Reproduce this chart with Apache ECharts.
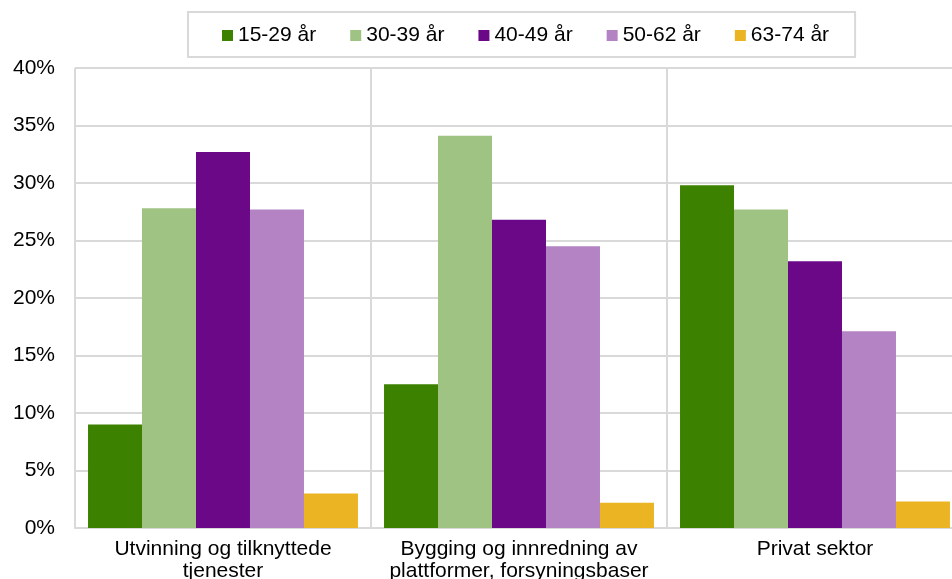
<!DOCTYPE html>
<html>
<head>
<meta charset="utf-8">
<script src="https://cdn.jsdelivr.net/npm/echarts@6/dist/echarts.min.js"></script>
<style>
html,body{margin:0;padding:0;background:#fff;}
#chart{width:952px;height:579px;}
</style>
</head>
<body>
<div id="chart"></div>
<script>
const categories = ["Utvinning og tilknyttede\ntjenester", "Bygging og innredning av\nplattformer, forsyningsbaser", "Privat sektor"];
const seriesNames = ["15-29 år", "30-39 år", "40-49 år", "50-62 år", "63-74 år"];
const s1529 = [9.0, 12.5, 29.8];
const s3039 = [27.8, 34.1, 27.7];
const s4049 = [32.7, 26.8, 23.2];
const s5062 = [27.7, 24.5, 17.1];
const s6374 = [3.0, 2.2, 2.3];
const yTicks = [0, 5, 10, 15, 20, 25, 30, 35, 40];

const values = [s1529, s3039, s4049, s5062, s6374];
const colors = ["#3c8200", "#9fc383", "#6a0888", "#b383c4", "#ebb422"];
const font = "'Liberation Sans', Arial, sans-serif";

const chart = echarts.init(document.getElementById('chart'));
chart.setOption({
  animation: false,
  color: colors,
  legend: {
    left: 188, top: 12,
    padding: [13, 26, 11, 34],
    borderColor: '#d9d9d9', borderWidth: 2,
    itemWidth: 11, itemHeight: 11, itemGap: 34,
    icon: 'rect',
    textStyle: { fontSize: 21, fontFamily: font, color: '#000' },
    data: seriesNames
  },
  grid: { left: 75, top: 68, width: 888, height: 460, containLabel: false, outerBoundsMode: 'none' },
  xAxis: {
    type: 'category',
    data: categories,
    axisLine: { show: true, lineStyle: { color: '#d9d9d9', width: 2 } },
    axisTick: { show: false },
    splitLine: { show: true, interval: 0, lineStyle: { color: '#d9d9d9', width: 2 } },
    axisLabel: { interval: 0, margin: 10, fontSize: 21, lineHeight: 22, fontFamily: font, color: '#000' }
  },
  yAxis: {
    type: 'value',
    min: yTicks[0], max: yTicks[yTicks.length - 1], interval: 5,
    axisLine: { show: false },
    axisTick: { show: false },
    splitLine: { show: true, lineStyle: { color: '#d9d9d9', width: 2 } },
    axisLabel: { margin: 20, fontSize: 21, fontFamily: font, color: '#000', formatter: '{value}%' }
  },
  series: seriesNames.map((n, i) => ({
    name: n,
    type: 'bar',
    data: values[i],
    barGap: '0%',
    barCategoryGap: '8.8%',
    itemStyle: { color: colors[i] }
  }))
});
</script>
</body>
</html>
